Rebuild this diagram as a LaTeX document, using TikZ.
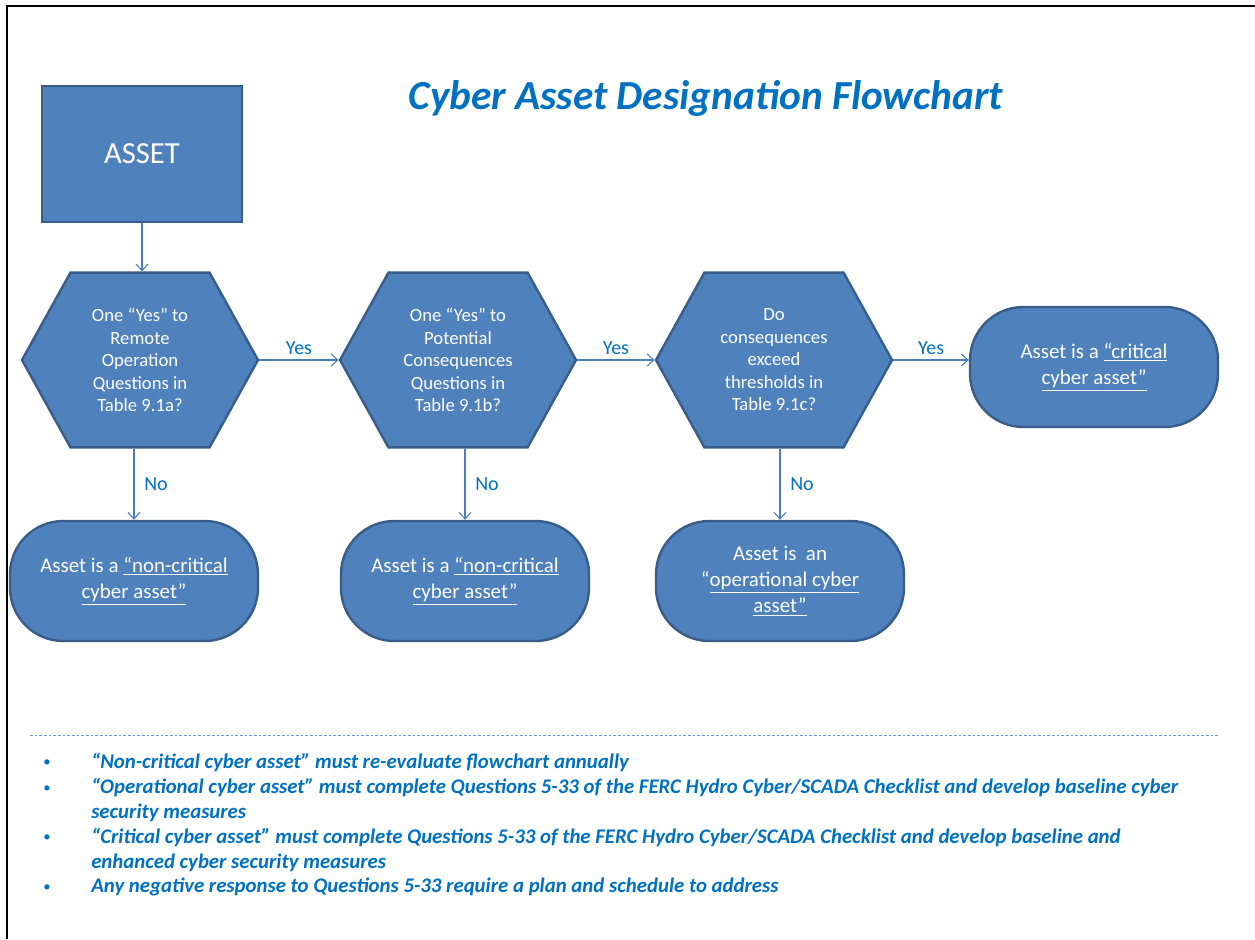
\documentclass[tikz,border=0pt]{standalone}
\usepackage{fontspec}
\setmainfont{Carlito}
\usepackage{tikz}
\usetikzlibrary{arrows.meta,shapes.symbols}

\definecolor{boxfill}{RGB}{79,129,189}
\definecolor{boxline}{RGB}{56,93,138}
\definecolor{arrowblue}{RGB}{74,126,187}
\definecolor{textblue}{RGB}{0,112,192}
\definecolor{dashblue}{RGB}{110,155,205}

\begin{document}
\begin{tikzpicture}[x=0.75pt,y=-0.75pt,
	asset_node/.style={rectangle,fill=boxfill,draw=boxline,line width=1.8pt,minimum width=150pt,minimum height=102pt,text=white,font=\fontsize{23}{28}\selectfont},
	decision_node/.style={signal,signal to=west and east,signal pointer angle=122,fill=boxfill,draw=boxline,line width=1.8pt,minimum width=177pt,minimum height=131pt,inner sep=0pt,text=white,align=center,font=\fontsize{14}{16.9}\selectfont},
	end_node/.style={rectangle,rounded corners=40pt,fill=boxfill,draw=boxline,line width=1.8pt,minimum width=186pt,minimum height=90pt,text=white,align=center,font=\fontsize{15.7}{19.5}\selectfont},
	flow/.style={draw=arrowblue,line width=0.8pt,-{Straight Barb[length=5pt,width=9pt]}},
	lbl/.style={text=textblue,font=\fontsize{15}{18}\selectfont},
	note/.style={text=textblue,anchor=west,align=left,inner sep=0pt,font=\fontsize{15.6}{18.75}\selectfont\bfseries\itshape},
	dot/.style={text=textblue,inner sep=0pt,font=\fontsize{11}{13}\selectfont}]
	\useasboundingbox (0,0) rectangle (1255,939);
	% frame
	\draw[line width=2.2pt] (7,939) -- (7,6) -- (1255,6);

	\node[text=textblue,font=\fontsize{31}{36}\selectfont\bfseries\itshape] (title) at (706,98) {Cyber Asset Designation Flowchart};

	\node[asset_node] (asset) at (142,154) {ASSET};
	\node[decision_node] (q1) at (140,360) {One “Yes” to\\Remote\\Operation\\Questions in\\Table 9.1a?};
	\node[decision_node] (q2) at (458,360) {One “Yes” to\\Potential\\Consequences\\Questions in\\Table 9.1b?};
	\node[decision_node] (q3) at (774,360) {Do\\consequences\\exceed\\thresholds in\\Table 9.1c?};
	\node[end_node] (crit) at (1094,367) {Asset is a \underline{“critical}\\\underline{cyber asset”}};
	\node[end_node] (non1) at (134,581) {Asset is a \underline{“non-critical}\\\underline{cyber asset”}};
	\node[end_node] (non2) at (465,581) {Asset is a \underline{“non-critical}\\\underline{cyber asset”}};
	\node[end_node] (oper) at (780,581) {Asset is~ an\\“\underline{operational cyber}\\\underline{asset”}};

	\draw[flow] (asset.south) -- (asset.south |- q1.north);
	\draw[flow] (q1.east) -- node[lbl,above] {Yes} (q2.west);
	\draw[flow] (q2.east) -- node[lbl,above] {Yes} (q3.west);
	\draw[flow] (q3.east) -- node[lbl,above] {Yes} (q3.east -| crit.west);
	\draw[flow] (non1.north |- q1.south) -- node[lbl,right,xshift=4pt] {No} (non1.north);
	\draw[flow] (non2.north |- q2.south) -- node[lbl,right,xshift=4pt] {No} (non2.north);
	\draw[flow] (oper.north |- q3.south) -- node[lbl,right,xshift=4pt] {No} (oper.north);

	% notes
	\draw[dashblue,line width=0.6pt,dash pattern=on 2pt off 1.5pt] (30,735) -- (1218,735);
	\node[dot] (b1) at (47,763) {\textbullet};
	\node[dot] (b2) at (47,789) {\textbullet};
	\node[dot] (b3) at (47,838) {\textbullet};
	\node[dot] (b4) at (47,888) {\textbullet};
	\node[note] (n1) at (91,762) {“Non-critical cyber asset” must re-evaluate flowchart annually};
	\node[note] (n2) at (91,800) {“Operational cyber asset” must complete Questions 5-33 of the FERC Hydro Cyber/SCADA Checklist and develop baseline cyber\\security measures};
	\node[note] (n3) at (91,849.5) {“Critical cyber asset” must complete Questions 5-33 of the FERC Hydro Cyber/SCADA Checklist and develop baseline and\\enhanced cyber security measures};
	\node[note] (n4) at (91,887) {Any negative response to Questions 5-33 require a plan and schedule to address};
\end{tikzpicture}
\end{document}
